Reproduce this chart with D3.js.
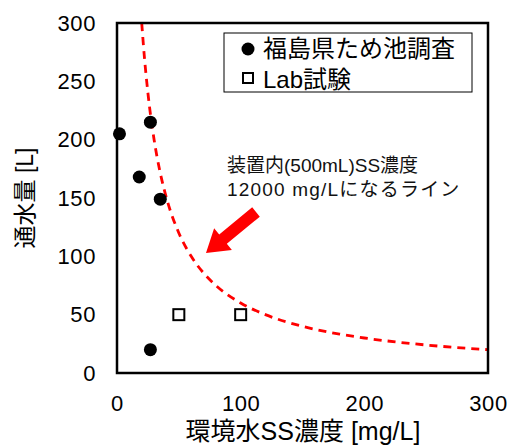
<!DOCTYPE html>
<html>
<head>
<meta charset="utf-8">
<script src="https://cdn.jsdelivr.net/npm/d3@7"></script>
<style>
  html, body { margin: 0; padding: 0; background: #fff; }
  svg text { font-family: "Liberation Sans", "Noto Sans CJK JP", sans-serif; }
</style>
</head>
<body>
<svg id="chart" width="513" height="445"></svg>
<script>
  'use strict';

  // survey points (福島県ため池調査)
  var fieldSS = [2, 27, 18, 35, 27];
  var fieldVol = [205, 215, 168, 149, 20];
  // lab tests
  var labSS = [50, 100];
  var labVol = [50, 50];
  // line where 500 mL device reaches 12000 mg/L : V = 12000*0.5 / SS
  var lineSS = [20, 22, 25, 30, 35, 40, 50, 60, 70, 80, 100, 120, 150, 180, 200, 250, 300];
  var lineVol = [300, 272.7, 240, 200, 171.4, 150, 120, 100, 85.7, 75, 60, 50, 40, 33.3, 30, 24, 20];
  var xTicks = [0, 100, 200, 300];
  var yTicks = [0, 50, 100, 150, 200, 250, 300];

  var margin = { left: 117, top: 23, right: 25, bottom: 72 },
      width = 513 - margin.left - margin.right,
      height = 445 - margin.top - margin.bottom;

  var svg = d3.select('#chart');
  var g = svg.append('g').attr('transform', 'translate(' + margin.left + ',' + margin.top + ')');

  var x = d3.scaleLinear().domain([0, 300]).range([0, width]);
  var y = d3.scaleLinear().domain([0, 300]).range([height, 0]);

  // axes (labels only, no tick marks)
  var xAxis = g.append('g')
    .attr('transform', 'translate(0,' + height + ')')
    .call(d3.axisBottom(x).tickValues(xTicks).tickSize(0).tickPadding(30));
  var yAxis = g.append('g')
    .call(d3.axisLeft(y).tickValues(yTicks).tickSize(0).tickPadding(21));
  [xAxis, yAxis].forEach(function(a) {
    a.select('.domain').remove();
    a.selectAll('text')
      .style('font-size', '22px')
      .style('letter-spacing', '0.6px')
      .style('font-family', '"Liberation Sans", sans-serif')
      .attr('fill', '#000');
  });
  xAxis.selectAll('text').attr('dy', '0.36em');

  // dashed curve
  var line = d3.line()
    .x(function(d) { return x(d[0]); })
    .y(function(d) { return y(d[1]); })
    .curve(d3.curveMonotoneX);
  g.append('path')
    .datum(lineSS.map(function(s, i) { return [s, lineVol[i]]; }))
    .attr('d', line)
    .attr('fill', 'none')
    .attr('stroke', '#ff0000')
    .attr('stroke-width', 2.8)
    .attr('stroke-dasharray', '8,6');

  // field points
  g.selectAll('.field')
    .data(fieldSS)
    .enter().append('circle')
    .attr('class', 'field')
    .attr('cx', function(d) { return x(d); })
    .attr('cy', function(d, i) { return y(fieldVol[i]); })
    .attr('r', 6.5)
    .attr('fill', '#000');

  // lab points
  g.selectAll('.lab')
    .data(labSS)
    .enter().append('rect')
    .attr('class', 'lab')
    .attr('x', function(d) { return x(d) - 5.5; })
    .attr('y', function(d, i) { return y(labVol[i]) - 5.5; })
    .attr('width', 11)
    .attr('height', 11)
    .attr('fill', '#fff')
    .attr('stroke', '#000')
    .attr('stroke-width', 2);

  // frame
  g.append('rect')
    .attr('width', width)
    .attr('height', height)
    .attr('fill', 'none')
    .attr('stroke', '#000')
    .attr('stroke-width', 2.5);

  // legend
  var legend = svg.append('g').attr('transform', 'translate(224,33)');
  legend.append('rect')
    .attr('width', 248)
    .attr('height', 59)
    .attr('fill', '#fff')
    .attr('stroke', '#000')
    .attr('stroke-width', 1);
  legend.append('circle').attr('cx', 24).attr('cy', 16).attr('r', 6.5).attr('fill', '#000');
  legend.append('rect').attr('x', 19).attr('y', 40).attr('width', 10).attr('height', 10)
    .attr('fill', '#fff').attr('stroke', '#000').attr('stroke-width', 2);
  legend.append('text').attr('x', 39).attr('y', 15).attr('dy', '0.36em')
    .style('font-size', '24px').text('福島県ため池調査');
  legend.append('text').attr('x', 39).attr('y', 46).attr('dy', '0.36em')
    .style('font-size', '24px').text('Lab試験');

  // annotation
  var note = svg.append('g');
  note.append('text').attr('x', 227).attr('y', 165).attr('dy', '0.36em')
    .style('font-size', '19px').attr('fill', '#111').text('装置内(500mL)SS濃度');
  note.append('text').attr('x', 227).attr('y', 189).attr('dy', '0.36em')
    .style('font-size', '19px').style('letter-spacing', '1.2px')
    .attr('fill', '#111').text('12000 mg/Lになるライン');

  // red arrow (tail -> tip)
  var tail = [256, 212], tip = [206, 253];
  var ang = Math.atan2(tip[1] - tail[1], tip[0] - tail[0]) * 180 / Math.PI;
  var len = Math.hypot(tip[0] - tail[0], tip[1] - tail[1]);
  note.append('path')
    .attr('transform', 'translate(' + tail[0] + ',' + tail[1] + ') rotate(' + ang + ')')
    .attr('d', 'M0,-6 L' + (len - 22) + ',-6 L' + (len - 22) + ',-14 L' + len + ',0 L' +
      (len - 22) + ',14 L' + (len - 22) + ',6 L0,6 Z')
    .attr('fill', '#ff0000');

  // axis titles
  svg.append('text')
    .attr('x', 303).attr('y', 431).attr('dy', '0.36em').attr('text-anchor', 'middle')
    .style('font-size', '25px').text('環境水SS濃度 [mg/L]');
  svg.append('text')
    .attr('transform', 'translate(25,' + (margin.top + height / 2) + ') rotate(-90)')
    .attr('dy', '0.36em')
    .attr('text-anchor', 'middle')
    .style('font-size', '23px').text('通水量 [L]');
</script>
</body>
</html>
